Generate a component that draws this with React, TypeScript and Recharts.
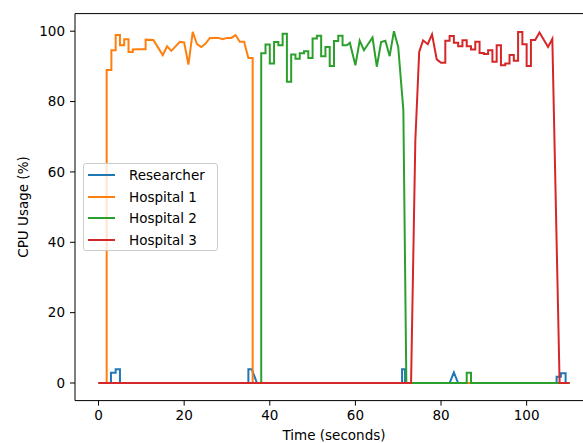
import React from 'react';
import { LineChart, Line, XAxis, YAxis, ReferenceLine } from 'recharts';

// Researcher
const researcherTime = [0, 2.9, 2.9, 4, 4, 5, 5, 35, 35, 35.8, 37, 70.9, 70.9, 71.6, 71.6, 82, 83, 84, 107, 107, 108, 108, 109.1, 109.1, 110];
const researcherCpu = [0, 0, 2.9, 2.9, 3.9, 3.9, 0, 0, 3.9, 3.9, 0, 0, 3.9, 3.9, 0, 0, 3, 0, 0, 1.8, 1.8, 2.8, 2.8, 0, 0];

// Hospital 1
const hospital1Time = [0, 1.9, 1.9, 3, 3, 4, 4, 5, 5, 6, 6, 7, 7, 8, 8, 9, 11, 11, 12.8, 15, 16, 17, 19, 20, 21, 22, 23, 24, 25, 26, 28, 29, 30, 31, 32, 33, 34, 35, 36, 36, 110];
const hospital1Cpu = [0, 0, 89, 89, 94.6, 94.6, 98.9, 98.9, 96, 96, 97.7, 97.7, 94.1, 94.1, 94.8, 94.9, 94.9, 97.6, 97.5, 93.2, 95.7, 94.4, 97, 96.8, 90.5, 99.8, 96.3, 95.5, 96.5, 98.1, 98.1, 97.7, 98.1, 98.1, 98.9, 97, 97, 92.4, 92.4, 0, 0];

// Hospital 2
const hospital2Time = [0, 38, 38, 39, 39, 40, 40, 41, 41, 42, 42, 43, 43, 44, 44, 45, 45, 46, 46, 47, 47, 48, 48, 49, 49, 50, 50, 51, 51, 52, 52, 53, 53, 54, 54, 55, 55, 56, 56, 57, 57, 58, 58.7, 60, 61, 62, 64, 65, 66, 67, 68, 69, 70, 71.2, 71.9, 86, 86, 87, 87, 110];
const hospital2Cpu = [0, 0, 93.7, 93.7, 96.2, 96.2, 90.8, 90.8, 96.9, 96.9, 96, 96, 99.3, 99.3, 85.6, 85.6, 93.4, 93.4, 92.2, 92.2, 93.7, 93.7, 94.3, 94.3, 92.4, 92.4, 97.9, 97.9, 98.7, 98.7, 92.9, 92.9, 95.5, 95.5, 90.1, 90.1, 97.2, 97.2, 98.7, 98.7, 96, 96, 96.7, 90.3, 97.3, 94.6, 98.2, 89.9, 96.9, 97.3, 92.9, 100, 95.5, 77.6, 0, 0, 2.9, 2.9, 0, 0];

// Hospital 3
const hospital3Time = [0, 73, 74, 74.9, 75.8, 76.9, 77.9, 79, 80, 81, 81, 82, 82, 83, 83, 84, 84, 85, 85, 86, 86, 87, 87, 88, 88, 89, 89, 90, 90, 91, 91, 92, 92, 93, 93, 94, 94, 95, 95, 96, 96, 97, 97, 98, 98, 99, 99, 100, 100, 101, 101, 102, 103, 105, 106, 107.7, 110];
const hospital3Cpu = [0, 0, 69, 94.1, 97.4, 96.3, 99.1, 92, 91, 91, 97.3, 97.3, 98.6, 98.6, 96.7, 96.7, 95.7, 95.7, 97.4, 97.4, 95.7, 95.7, 94.8, 94.8, 97, 97, 93.8, 93.8, 93.5, 93.5, 94.6, 94.6, 91.3, 91.3, 96, 96, 90.3, 90.3, 90.8, 90.8, 93.2, 93.2, 91.6, 91.6, 99.8, 99.8, 96.3, 96.3, 90.1, 90.1, 97.5, 97.5, 99.6, 95.5, 97.8, 0, 0];

const xTicks = [0, 20, 40, 60, 80, 100];
const yTicks = [0, 20, 40, 60, 80, 100];

const toPoints = (time: number[], cpu: number[]) => time.map((t, i) => ({ t, cpu: cpu[i] }));

const series = [
    { name: 'Researcher', color: '#1f77b4', data: toPoints(researcherTime, researcherCpu) },
    { name: 'Hospital 1', color: '#ff7f0e', data: toPoints(hospital1Time, hospital1Cpu) },
    { name: 'Hospital 2', color: '#2ca02c', data: toPoints(hospital2Time, hospital2Cpu) },
    { name: 'Hospital 3', color: '#d62728', data: toPoints(hospital3Time, hospital3Cpu) },
];

const font = '"DejaVu Sans", sans-serif';
const tickStyle = { fontSize: 13.5, fill: '#000', fontFamily: font };

const App = () => {
    return (
        <div style={{ position: 'absolute', left: 0, top: 0, width: 583, height: 443, overflow: 'hidden', background: '#fff' }}>
            <LineChart width={600} height={443} margin={{ top: 13.6, right: 7, bottom: 0, left: 0 }}>
                <XAxis
                    type="number"
                    dataKey="t"
                    domain={[-5.5, 115.5]}
                    ticks={xTicks}
                    allowDataOverflow
                    height={42.4}
                    tickSize={5}
                    tickMargin={5}
                    tick={tickStyle}
                    axisLine={{ stroke: '#000', strokeWidth: 1 }}
                    tickLine={{ stroke: '#000', strokeWidth: 1 }}
                    label={{
                        content: () => (
                            <text x={334} y={440} textAnchor="middle" fontSize={13.5} fontFamily={font} fill="#000">
                                Time (seconds)
                            </text>
                        ),
                    }}
                />
                <YAxis
                    type="number"
                    domain={[-5, 105]}
                    ticks={yTicks}
                    allowDataOverflow
                    width={75}
                    tickSize={5}
                    tickMargin={5}
                    tick={tickStyle}
                    axisLine={{ stroke: '#000', strokeWidth: 1 }}
                    tickLine={{ stroke: '#000', strokeWidth: 1 }}
                    label={{
                        content: () => (
                            <text
                                x={23}
                                y={207}
                                transform="rotate(-90 23 207)"
                                textAnchor="middle"
                                dominantBaseline="central"
                                fontSize={13.5}
                                fontFamily={font}
                                fill="#000"
                            >
                                CPU Usage (%)
                            </text>
                        ),
                    }}
                />
                <ReferenceLine y={105} stroke="#000" strokeWidth={1} />
                {series.map((s) => (
                    <Line
                        key={s.name}
                        data={s.data}
                        dataKey="cpu"
                        name={s.name}
                        type="linear"
                        stroke={s.color}
                        strokeWidth={2}
                        dot={false}
                        activeDot={false}
                        isAnimationActive={false}
                    />
                ))}
            </LineChart>
            <div
                style={{
                    position: 'absolute',
                    left: 83,
                    top: 163,
                    width: 135,
                    height: 88,
                    boxSizing: 'border-box',
                    border: '1px solid #cccccc',
                    borderRadius: 3,
                    background: 'rgba(255,255,255,0.8)',
                    fontFamily: font,
                    fontSize: 13.5,
                }}
            >
                {series.map((s, i) => (
                    <div
                        key={s.name}
                        style={{ position: 'absolute', left: 0, top: 1 + i * 21.5, height: 20, width: 133, display: 'flex', alignItems: 'center' }}
                    >
                        <svg width={40} height={20} style={{ display: 'block' }}>
                            <line x1={4} y1={10} x2={31} y2={10} stroke={s.color} strokeWidth={2} />
                        </svg>
                        <span style={{ marginLeft: 5, color: '#000', whiteSpace: 'nowrap' }}>{s.name}</span>
                    </div>
                ))}
            </div>
        </div>
    );
};

export default App;
